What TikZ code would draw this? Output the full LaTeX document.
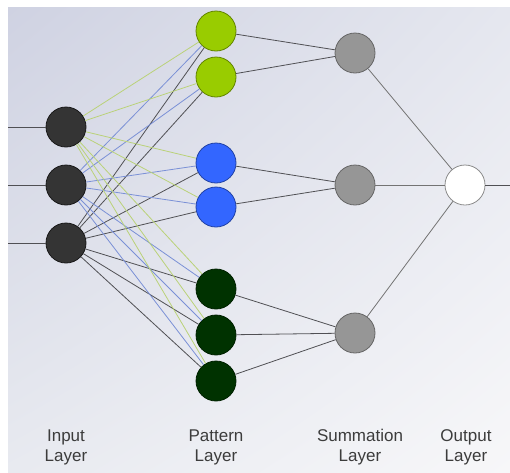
\documentclass[tikz,border=0pt]{standalone}
\usepackage{fontspec}
\setmainfont{Liberation Sans}
\usetikzlibrary{positioning,shadings}

\definecolor{bgtl}{RGB}{207,210,226}
\definecolor{bgtr}{RGB}{229,231,239}
\definecolor{bgbl}{RGB}{232,234,240}
\definecolor{bgbr}{RGB}{247,247,249}
\definecolor{inputfill}{RGB}{52,52,52}
\definecolor{limefill}{RGB}{153,204,0}
\definecolor{azurefill}{RGB}{51,102,255}
\definecolor{forestfill}{RGB}{0,50,0}
\definecolor{sumfill}{RGB}{150,150,150}
\definecolor{limewire}{RGB}{186,210,120}
\definecolor{azurewire}{RGB}{122,144,214}
\definecolor{darkwire}{RGB}{80,80,84}
\definecolor{labeltext}{RGB}{60,60,60}

\begin{document}
\begin{tikzpicture}[
                x=1pt, y=-1pt,
                neuron/.style={circle, minimum size=40pt, inner sep=0pt, fill=#1, draw=#1!65!black, line width=0.8pt},
                inputnode/.style={neuron=inputfill, draw=black!90},
                sumnode/.style={neuron=sumfill, draw=black!60},
                outnode/.style={neuron=white, draw=black!45},
                wire/.style={draw=darkwire, line width=0.8pt},
                layername/.style={align=center, text=labeltext, font=\fontsize{17}{20}\selectfont}
            ]
                \useasboundingbox (0,0) rectangle (510,472);
                \shade[upper left=bgtl, upper right=bgtr, lower left=bgbl, lower right=bgbr] (8,7) rectangle (510,472);
                % input layer
                \foreach \y [count=\i] in {127,185,243} {
                    \node [inputnode] (i\i) at (66,\y) {};
                    \coordinate (x\i) at (8,\y);
                    \draw [wire] (x\i) -- (i\i);
                }
                % pattern layer
                \foreach \y/\c [count=\j] in {31/limefill,77/limefill,163/azurefill,207/azurefill,289/forestfill,335/forestfill,381/forestfill} {
                    \node [neuron=\c] (p\j) at (216,\y) {};
                }
                % summation and output
                \node [sumnode] (s1) at (355,53) {};
                \node [sumnode] (s2) at (355,185) {};
                \node [sumnode] (s3) at (355,333) {};
                \node [outnode] (o) at (465,185) {};
                \coordinate (y) at (510,185);
                \foreach \j in {1,...,7} {
                    \draw [line width=0.8pt, limewire] (i1) -- (p\j);
                    \draw [line width=0.8pt, azurewire] (i2) -- (p\j);
                    \draw [line width=0.8pt, darkwire] (i3) -- (p\j);
                }
                \foreach \j/\k in {1/1,2/1,3/2,4/2,5/3,6/3,7/3} {
                    \draw [wire] (p\j) -- (s\k);
                }
                \foreach \k in {1,2,3} {
                    \draw [wire, draw=black!55] (s\k) -- (o);
                }
                \draw [wire] (o) -- (y);
                % layer names
                \node [layername] (li) at (66,447) {Input\\Layer};
                \node [layername] (lp) at (216,447) {Pattern\\Layer};
                \node [layername] (ls) at (360,447) {Summation\\Layer};
                \node [layername] (lo) at (466,447) {Output\\Layer};
            \end{tikzpicture}
\end{document}
